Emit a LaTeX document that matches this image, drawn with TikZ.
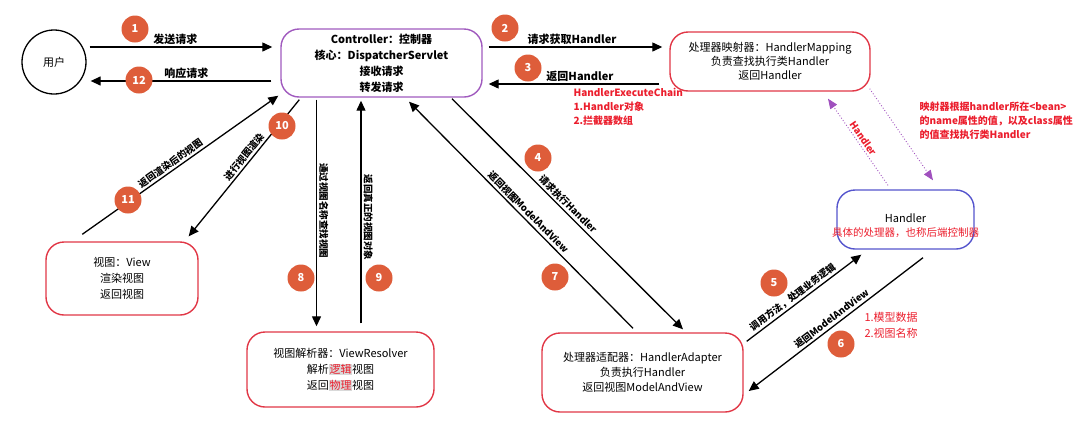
\documentclass[tikz,border=0pt]{standalone}
\usepackage{fontspec}
\setmainfont{Noto Sans CJK SC}
\usetikzlibrary{arrows.meta}
\definecolor{stepred}{RGB}{222,93,58}
\definecolor{boxred}{RGB}{225,55,70}
\definecolor{boxpurple}{RGB}{160,90,190}
\definecolor{boxblue}{RGB}{85,85,205}
\definecolor{notered}{RGB}{235,30,45}
\definecolor{dotpurple}{RGB}{160,80,190}
\newcommand{\hlword}[1]{{\setlength{\fboxsep}{0.6pt}\colorbox{black!15}{\textcolor{notered}{#1}}}}

\begin{document}
\begin{tikzpicture}[x=1pt, y=-1pt]
    % Define styles
    \tikzstyle{module} = [rectangle, draw=boxred, line width=1.4pt, rounded corners=18pt, align=center, inner sep=0pt]
    \tikzstyle{stepnum} = [circle, fill=stepred, text=white, font=\bfseries\fontsize{11}{11}\selectfont, minimum size=27pt, inner sep=0pt]
    \tikzstyle{arrow} = [line width=1.3pt, -{Triangle[length=10pt,width=9pt]}]
    \tikzstyle{lbl} = [font=\bfseries\fontsize{11}{11}\selectfont, inner sep=2pt]
    \tikzstyle{slbl} = [font=\bfseries\fontsize{9.5}{9.5}\selectfont, sloped, inner sep=2pt]
    \tikzstyle{vlbl} = [font=\bfseries\fontsize{9.5}{9.5}\selectfont, rotate=-90, anchor=south, inner sep=2pt]
    \tikzstyle{note} = [text=notered, align=left, anchor=west, font=\bfseries\fontsize{10}{14}\selectfont]
    \tikzstyle{dotarrow} = [dotted, line width=0.9pt, dotpurple, -{Triangle[length=10pt,width=8pt]}]

    \useasboundingbox (0,0) rectangle (1080,437);

    % Nodes
    \node (user) [circle, draw, line width=1.3pt, minimum size=64pt, font=\fontsize{11}{11}\selectfont] at (54,62) {用户};
    \node (ctrl) [module, draw=boxpurple, minimum width=201pt, minimum height=68pt, font=\bfseries\fontsize{11}{16}\selectfont] at (381.5,63) {Controller：控制器\\核心：DispatcherServlet\\接收请求\\转发请求};
    \node (hm) [module, minimum width=200pt, minimum height=59pt, font=\fontsize{11}{14}\selectfont] at (770,61.5) {处理器映射器：HandlerMapping\\负责查找执行类Handler\\返回Handler};
    \node (handler) [module, draw=boxblue, minimum width=137pt, minimum height=59pt] at (905.5,219.5) {};
    \node (handlertxt) [align=center, font=\fontsize{11}{14}\selectfont] at (905.5,226) {Handler\\{\color{notered}\fontsize{10.5}{14}\selectfont 具体的处理器，也称后端控制器}};
    \node (view) [module, minimum width=152pt, minimum height=73pt, font=\fontsize{11}{16}\selectfont] at (122,278.5) {视图：View\\渲染视图\\返回视图};
    \node (vr) [module, minimum width=187pt, minimum height=75pt, font=\fontsize{11}{16}\selectfont] at (340.5,369.5) {视图解析器：ViewResolver\\解析\hlword{逻辑}视图\\返回\hlword{物理}视图};
    \node (ha) [module, minimum width=201pt, minimum height=79pt, font=\fontsize{11}{15}\selectfont] at (642.5,372.5) {处理器适配器：HandlerAdapter\\负责执行Handler\\返回视图ModelAndView};

    % Notes
    \node (chain) [note] at (570,107) {HandlerExecuteChain\\1.Handler对象\\2.拦截器数组};
    \node (mapnote) [note] at (916,120.5) {映射器根据handler所在<bean>\\的name属性的值，以及class属性\\的值查找执行类Handler};
    \node (modelnote) [note, font=\fontsize{11}{16}\selectfont] at (861,325) {1.模型数据\\2.视图名称};

    % Arrows
    \draw [arrow] ([xshift=3pt,yshift=15pt]user.east) -- node[lbl, above, pos=0.47] {发送请求} ([xshift=-8pt,yshift=16pt]ctrl.west);
    \draw [arrow] ([xshift=-9pt,yshift=-18pt]ctrl.west) -- node[lbl, above, pos=0.47] {响应请求} ([xshift=4pt,yshift=-19pt]user.east);
    \draw [arrow] ([xshift=6pt,yshift=16pt]ctrl.east) -- node[lbl, above, pos=0.48] {请求获取Handler} ([xshift=-7pt,yshift=14.5pt]hm.west);
    \draw [arrow] ([xshift=-10pt,yshift=-22.5pt]hm.west) -- node[lbl, above, pos=0.465] {返回Handler} ([xshift=6pt,yshift=-21pt]ctrl.east);
    \draw [arrow] ([xshift=70.5pt,yshift=-1pt]ctrl.south) -- node[slbl, above, pos=0.48] {请求执行Handler} ([xshift=40.5pt,yshift=3pt]ha.north);
    \draw [arrow] ([xshift=-9.5pt,yshift=4pt]ha.north) -- node[slbl, above, pos=0.49] {返回视图ModelAndView} ([xshift=27.5pt,yshift=-4pt]ctrl.south);
    \draw [arrow] ([xshift=-65pt,yshift=-2pt]ctrl.south) -- node[vlbl, pos=0.49] {通过视图名称查找视图} ([xshift=-24pt,yshift=5pt]vr.north);
    \draw [arrow] ([xshift=20.5pt,yshift=8pt]vr.north) -- node[vlbl, pos=0.476] {返回真正的视图对象} ([xshift=-20.5pt,yshift=-3pt]ctrl.south);
    \draw [arrow] ([xshift=19pt,yshift=-2pt]ctrl.south west) -- node[slbl, above, pos=0.45] {进行视图渲染} ([xshift=-10pt,yshift=5pt]view.north east);
    \draw [arrow] ([xshift=37pt,yshift=7pt]view.north west) -- node[slbl, above, pos=0.47] {返回渲染后的视图} ([xshift=-2pt,yshift=2pt]ctrl.south west);
    \draw [arrow] ([xshift=3pt,yshift=-9pt]ha.north east) -- node[slbl, above, pos=0.44] {调用方法，处理业务逻辑} ([xshift=25pt,yshift=-5pt]handler.south west);
    \draw [arrow] ([xshift=17.5pt,yshift=-8pt]handler.south) -- node[slbl, above, pos=0.5] {返回ModelAndView} ([xshift=5pt,yshift=-18.5pt]ha.east);
    \draw [dotarrow] ([xshift=-17.5pt,yshift=4pt]handler.north) -- node[slbl, text=notered, above, pos=0.5] {Handler} ([xshift=58pt,yshift=-7pt]hm.south);
    \draw [dotarrow] ([xshift=-1pt,yshift=3pt]hm.south east) -- ([xshift=27.5pt,yshift=9pt]handler.north);

    % Step numbers
    \node (s1) [stepnum] at (135,29) {1};
    \node (s2) [stepnum] at (505,28) {2};
    \node (s3) [stepnum] at (528,68) {3};
    \node (s4) [stepnum] at (538,158) {4};
    \node (s5) [stepnum] at (774,283) {5};
    \node (s6) [stepnum] at (841,344) {6};
    \node (s7) [stepnum] at (555,277) {7};
    \node (s8) [stepnum] at (301,278) {8};
    \node (s9) [stepnum] at (379,278) {9};
    \node (s10) [stepnum] at (282,126) {10};
    \node (s11) [stepnum] at (128,200) {11};
    \node (s12) [stepnum] at (139,80) {12};
\end{tikzpicture}
\end{document}
